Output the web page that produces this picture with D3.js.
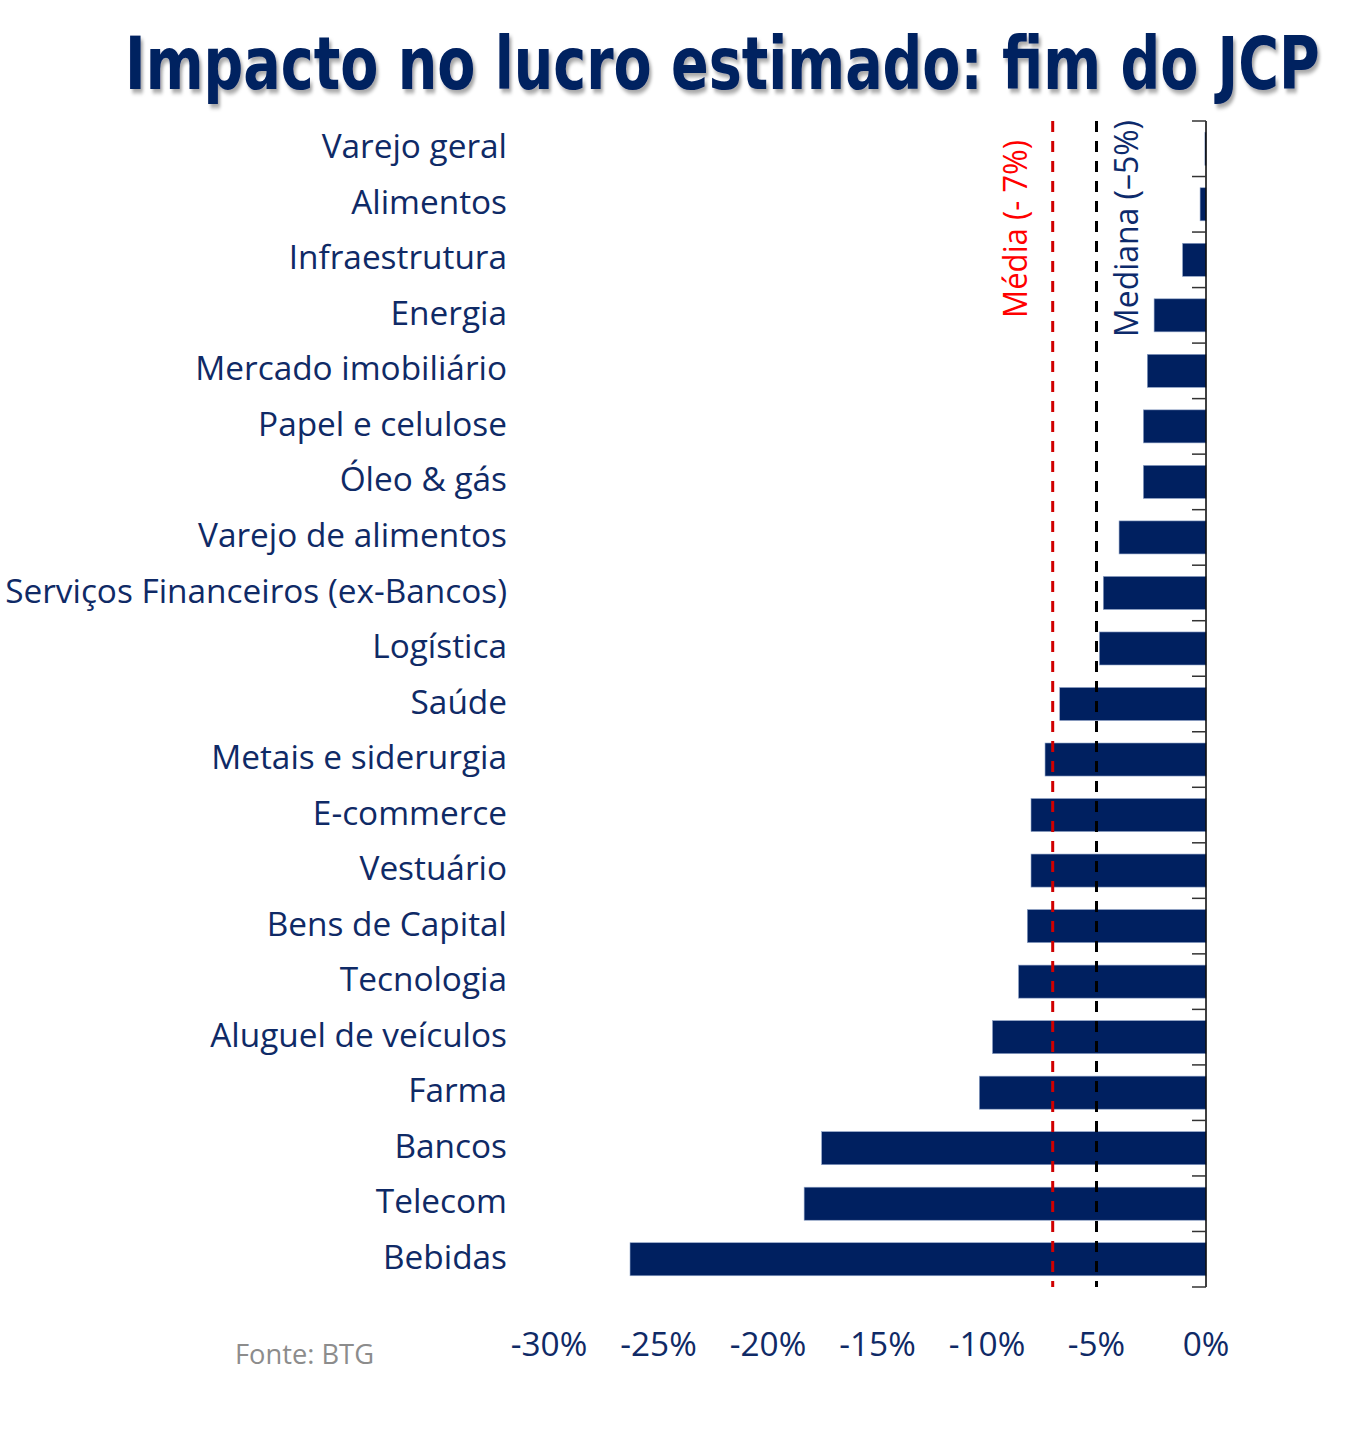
<!DOCTYPE html>
<html><head><meta charset="utf-8">
<script src="https://cdn.jsdelivr.net/npm/d3@7"></script>
<style>body{margin:0;background:#fff}svg{display:block}</style>
</head><body>
<svg id="c" width="1369" height="1431"></svg>
<script>
const categories = ["Varejo geral","Alimentos","Infraestrutura","Energia","Mercado imobiliário","Papel e celulose","Óleo & gás","Varejo de alimentos","Serviços Financeiros (ex-Bancos)","Logística","Saúde","Metais e siderurgia","E-commerce","Vestuário","Bens de Capital","Tecnologia","Aluguel de veículos","Farma","Bancos","Telecom","Bebidas"];
const values = [-0.05,-0.27,-1.07,-2.37,-2.68,-2.86,-2.86,-3.97,-4.69,-4.87,-6.68,-7.35,-7.99,-7.99,-8.16,-8.56,-9.75,-10.35,-17.55,-18.35,-26.3];
const xTicks = [-30,-25,-20,-15,-10,-5,0];
const refLines = [{name:"Média (- 7%)", value:-7.0, color:"#d00000", text:"#ff0000"},{name:"Mediana (–5%)", value:-5.0, color:"#000000", text:"#0d2a6b"}];
const title = "Impacto no lucro estimado: fim do JCP";
const source = "Fonte: BTG";

const navy = "#002060", labelColor = "#0f2a66";
const svg = d3.select("#c");
const FONT = "'Open Sans', 'Noto Sans', sans-serif";

const x = d3.scaleLinear().domain([-30,0]).range([549,1206]);
const p = 0.405;
const y = d3.scaleBand().domain(categories).range([121,1287]).paddingInner(p).paddingOuter(p/2);

const defs = svg.append("defs");
const f = defs.append("filter").attr("id","sh").attr("x","-5%").attr("y","-20%").attr("width","110%").attr("height","150%");
f.append("feDropShadow").attr("dx",3).attr("dy",4).attr("stdDeviation",2).attr("flood-color","#000").attr("flood-opacity",0.35);

const tt = svg.append("text").attr("fill",navy)
  .attr("font-family","'DejaVu Sans', sans-serif").attr("font-weight","bold").attr("font-size",73)
  .attr("filter","url(#sh)").text(title);
const tw = tt.node().getComputedTextLength();
tt.attr("transform",`translate(125,89) scale(${1195/tw},1)`);

svg.append("g").selectAll("rect").data(categories).join("rect")
  .attr("x",(d,i)=>x(values[i])).attr("y",d=>y(d))
  .attr("width",(d,i)=>x(0)-x(values[i])).attr("height",y.bandwidth())
  .attr("fill",navy).attr("stroke","#8fa3c7").attr("stroke-width",0.6);

refLines.forEach(r=>{
  svg.append("line").attr("x1",x(r.value)).attr("x2",x(r.value)).attr("y1",121).attr("y2",1287)
    .attr("stroke",r.color).attr("stroke-width",3).attr("stroke-dasharray","11,9");
});

const yAxisG = svg.append("g");
yAxisG.append("line").attr("x1",x(0)).attr("x2",x(0)).attr("y1",121).attr("y2",1287).attr("stroke","#000").attr("stroke-width",1.5);
const boundaries = d3.range(categories.length+1).map(i=>y.range()[0]+i*y.step());
yAxisG.selectAll("line.t").data(boundaries).join("line").attr("class","t")
  .attr("x1",x(0)-14).attr("x2",x(0)).attr("y1",d=>d).attr("y2",d=>d).attr("stroke","#333").attr("stroke-width",1.5);

const lg = svg.append("g");
const labels = lg.selectAll("text").data(categories).join("text")
  .attr("text-anchor","end").attr("fill",labelColor).attr("font-family",FONT).attr("font-size",33)
  .attr("dy","0.35em").text(d=>d);
let maxW = 0; labels.each(function(){maxW=Math.max(maxW,this.getComputedTextLength());});
const k = 502/maxW;
labels.attr("transform",d=>`translate(507,${y(d)+y.bandwidth()/2-2}) scale(${k},1)`);

const xa = svg.append("g").attr("transform","translate(0,1333)")
  .call(d3.axisBottom(x).tickValues(xTicks).tickSize(0).tickFormat(d=>(d<0?"-":"")+Math.abs(d)+"%"));
xa.select(".domain").remove();
xa.selectAll(".tick").attr("transform",null);
xa.selectAll("text").attr("fill",labelColor).attr("font-family",FONT).attr("font-size",33)
  .attr("dy","0.71em").attr("y",0).attr("x",0)
  .attr("transform",d=>`translate(${x(d)},0) scale(${k},1)`);

svg.append("text").attr("fill","#8c8c8c").attr("font-family",FONT).attr("font-size",27)
  .attr("transform",`translate(235,1364) scale(${k},1)`).text(source);

const refLens = [178, 217];
refLines.forEach((r,i)=>{
  const cx = i===0?1016:1127, yEnd = i===0?140:120;
  const t = svg.append("text").attr("text-anchor","end").attr("fill",r.text).attr("font-family",FONT).attr("font-size",33)
    .text(r.name);
  const s = refLens[i]/t.node().getComputedTextLength();
  t.attr("transform",`translate(${cx+11},${yEnd}) rotate(-90) scale(${s},1)`);
});
</script>
</body></html>
